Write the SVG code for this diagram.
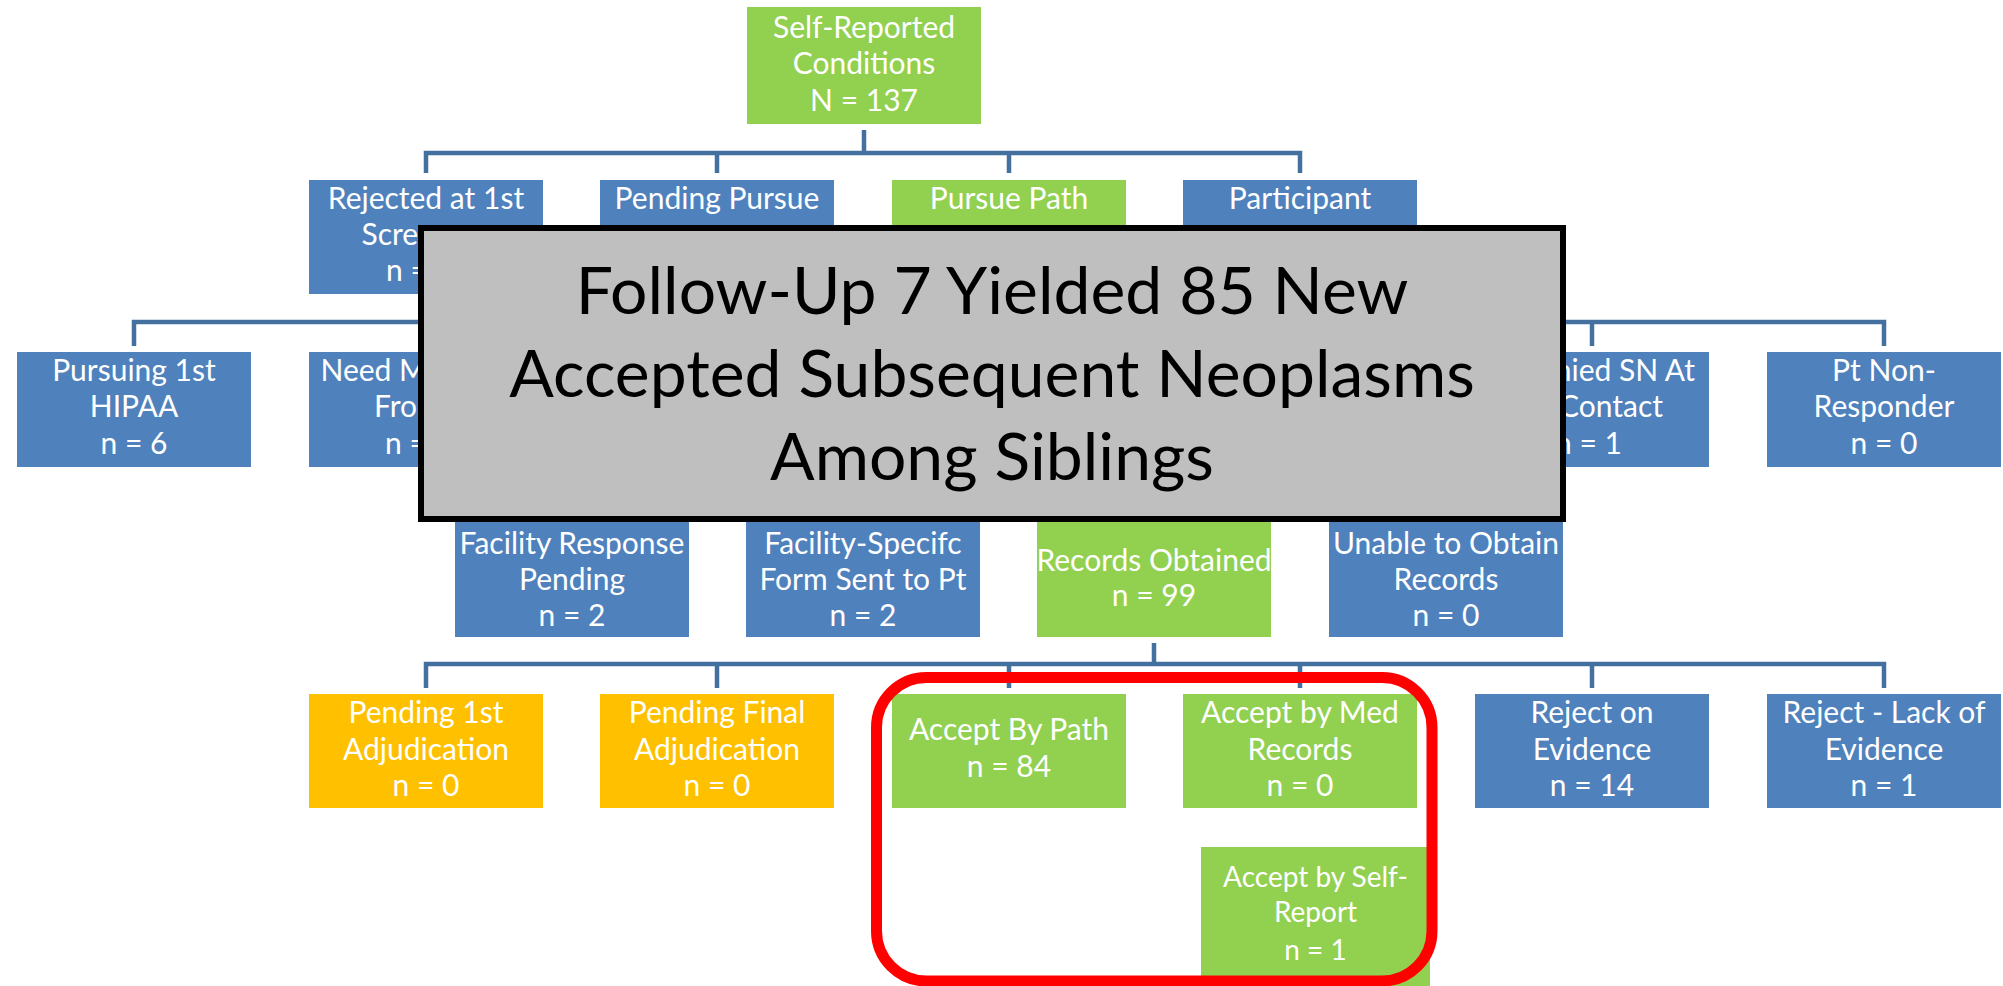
<svg xmlns="http://www.w3.org/2000/svg" width="2003" height="986" viewBox="0 0 2003 986">
<style>
.b{fill:#4F81BD}.g{fill:#92D050}.o{fill:#FFC000}
.t{font-family:Lato,"Liberation Sans",sans-serif;font-size:30px;fill:#FFFFFF;text-anchor:middle}
.s{text-anchor:start}.e{text-anchor:end}
.c{stroke:#43709E;stroke-width:4.5;fill:none}
.ov{fill:#BFBFBF;stroke:#000000;stroke-width:6}
.ot{font-family:Lato,"Liberation Sans",sans-serif;font-size:66px;fill:#000000;text-anchor:middle}
.hl{fill:none;stroke:#FF0000;stroke-width:11}
</style>
<rect width="2003" height="986" fill="#FFFFFF"/>
<g id="connectors">
<path class="c" d="M864 130V153 M426 173V153H1300V173 M717 153V173 M1009 153V173"/>
<path class="c" d="M134 346V322H1884V346 M426 322V346 M717 322V346 M1009 322V346 M1300 322V346 M1592 322V346"/>
<path class="c" d="M1154 643V664 M426 688V664H1884V688 M717 664V688 M1009 664V688 M1300 664V688 M1592 664V688"/>
</g>
<g id="n-self-reported"><rect class="g" x="747" y="7" width="234" height="117"/><text class="t" x="864" y="38">Self-Reported</text><text class="t" x="864" y="74">Conditions</text><text class="t" x="864" y="110.5">N = 137</text></g>
<g id="n-rejected-1st"><rect class="b" x="309" y="180" width="234" height="114"/><text class="t" x="426" y="208.5">Rejected at 1st</text><text class="t s" x="361.5" y="245">Scre</text><text class="t s" x="386" y="281">n =</text></g>
<g id="n-pending-pursue"><rect class="b" x="600" y="180" width="234" height="114"/><text class="t" x="717" y="208.5">Pending Pursue</text></g>
<g id="n-pursue-path"><rect class="g" x="892" y="180" width="234" height="114"/><text class="t" x="1009" y="208.5">Pursue Path</text></g>
<g id="n-participant"><rect class="b" x="1183" y="180" width="234" height="114"/><text class="t" x="1300" y="208.5">Participant</text></g>
<g id="n-pursuing-hipaa"><rect class="b" x="17" y="352" width="234" height="115"/><text class="t" x="134" y="380.5">Pursuing 1st</text><text class="t" x="134" y="417">HIPAA</text><text class="t" x="134" y="453.5">n = 6</text></g>
<g id="n-need-more"><rect class="b" x="309" y="352" width="234" height="115"/><text class="t s" x="320.5" y="380.5">Need M</text><text class="t s" x="374" y="417">Fro</text><text class="t s" x="385" y="453.5">n =</text></g>
<g id="n-denied-sn"><rect class="b" x="1475" y="352" width="234" height="115"/><text class="t e" x="1695" y="380.5">nied SN At</text><text class="t e" x="1663" y="417">Contact</text><text class="t e" x="1622" y="453.5">n = 1</text></g>
<g id="n-non-responder"><rect class="b" x="1767" y="352" width="234" height="115"/><text class="t" x="1884" y="380.5">Pt Non-</text><text class="t" x="1884" y="417">Responder</text><text class="t" x="1884" y="453.5">n = 0</text></g>
<g id="n-facility-response"><rect class="b" x="455" y="521" width="234" height="116"/><text class="t" x="572" y="553.5">Facility Response</text><text class="t" x="572" y="589.5">Pending</text><text class="t" x="572" y="625.5">n = 2</text></g>
<g id="n-facility-form"><rect class="b" x="746" y="521" width="234" height="116"/><text class="t" x="863" y="553.5">Facility-Specifc</text><text class="t" x="863" y="589.5">Form Sent to Pt</text><text class="t" x="863" y="625.5">n = 2</text></g>
<g id="n-records-obtained"><rect class="g" x="1037" y="521" width="234" height="116"/><text class="t" x="1154" y="571">Records Obtained</text><text class="t" x="1154" y="606">n = 99</text></g>
<g id="n-unable-records"><rect class="b" x="1329" y="521" width="234" height="116"/><text class="t" x="1446" y="553.5">Unable to Obtain</text><text class="t" x="1446" y="589.5">Records</text><text class="t" x="1446" y="625.5">n = 0</text></g>
<g id="n-pending-1st-adj"><rect class="o" x="309" y="694" width="234" height="114"/><text class="t" x="426" y="723">Pending 1st</text><text class="t" x="426" y="759.5">Adjudication</text><text class="t" x="426" y="796">n = 0</text></g>
<g id="n-pending-final-adj"><rect class="o" x="600" y="694" width="234" height="114"/><text class="t" x="717" y="723">Pending Final</text><text class="t" x="717" y="759.5">Adjudication</text><text class="t" x="717" y="796">n = 0</text></g>
<g id="n-accept-path"><rect class="g" x="892" y="694" width="234" height="114"/><text class="t" x="1009" y="740">Accept By Path</text><text class="t" x="1009" y="777">n = 84</text></g>
<g id="n-accept-med"><rect class="g" x="1183" y="694" width="234" height="114"/><text class="t" x="1300" y="723">Accept by Med</text><text class="t" x="1300" y="759.5">Records</text><text class="t" x="1300" y="796">n = 0</text></g>
<g id="n-reject-evidence"><rect class="b" x="1475" y="694" width="234" height="114"/><text class="t" x="1592" y="723">Reject on</text><text class="t" x="1592" y="759.5">Evidence</text><text class="t" x="1592" y="796">n = 14</text></g>
<g id="n-reject-lack"><rect class="b" x="1767" y="694" width="234" height="114"/><text class="t" x="1884" y="723">Reject - Lack of</text><text class="t" x="1884" y="759.5">Evidence</text><text class="t" x="1884" y="796">n = 1</text></g>
<g id="n-accept-self"><rect class="g" x="1201" y="847" width="229" height="139"/><text class="t" x="1315.5" y="887" style="font-size:28px">Accept by Self-</text><text class="t" x="1315.5" y="922" style="font-size:28px">Report</text><text class="t" x="1315.5" y="960" style="font-size:28px">n = 1</text></g>
<g id="overlay-title"><rect class="ov" x="421" y="228" width="1142" height="291"/><text class="ot" x="992" y="314">Follow-Up 7 Yielded 85 New</text><text class="ot" x="992" y="397">Accepted Subsequent Neoplasms</text><text class="ot" x="992" y="480">Among Siblings</text></g>
<g id="highlight"><rect class="hl" x="876.5" y="677.5" width="555.5" height="303.5" rx="50" ry="50"/></g>
</svg>
